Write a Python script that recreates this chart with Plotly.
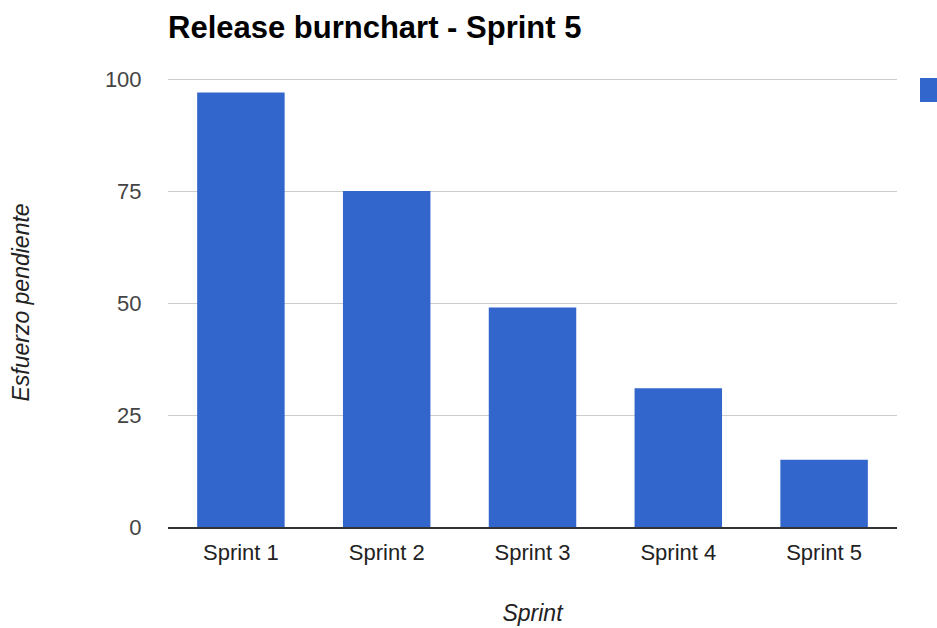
import plotly.graph_objects as go

# Remaining effort per sprint
sprints = ["Sprint 1", "Sprint 2", "Sprint 3", "Sprint 4", "Sprint 5"]
effort = [97, 75, 49, 31, 15]
y_ticks = [0, 25, 50, 75, 100]

BLUE = "#3366cc"
FONT = "Liberation Sans, Arial, sans-serif"

fig = go.Figure(
    go.Bar(
        x=sprints,
        y=effort,
        marker=dict(color=BLUE, line=dict(width=0)),
        width=0.6,
        showlegend=False,
    )
)

fig.update_layout(
    width=937,
    height=628,
    margin=dict(l=168, r=40, t=78, b=101),
    plot_bgcolor="white",
    paper_bgcolor="white",
    font=dict(family=FONT, color="#222222"),
    title=dict(
        text="<b>Release burnchart - Sprint 5</b>",
        x=168 / 937,
        xanchor="left",
        y=1 - 27 / 628,
        yanchor="middle",
        font=dict(size=31, color="#000000", family=FONT),
    ),
    bargap=0.4,
)

fig.update_xaxes(
    automargin=False,
    title=dict(text="<i>Sprint</i>", font=dict(size=23, color="#222222"), standoff=40),
    tickfont=dict(size=22, color="#222222"),
    ticks="outside",
    ticklen=5,
    tickcolor="rgba(0,0,0,0)",
    showline=True,
    linecolor="#333333",
    linewidth=2,
    showgrid=False,
)

fig.update_yaxes(
    automargin=False,
    title=dict(text="<i>Esfuerzo pendiente</i>", font=dict(size=23, color="#222222"), standoff=68),
    range=[0, 100.25],
    tickvals=y_ticks,
    tickfont=dict(size=22, color="#444444"),
    ticks="outside",
    ticklen=21,
    tickcolor="rgba(0,0,0,0)",
    showgrid=True,
    gridcolor="#cccccc",
    gridwidth=1,
    zeroline=False,
    showline=False,
)

# Legend swatch on the right edge
fig.add_shape(
    type="rect",
    xref="paper",
    yref="paper",
    x0=(920 - 168) / 729,
    x1=(945 - 168) / 729,
    y0=(527 - 102) / 449,
    y1=(527 - 78) / 449,
    fillcolor=BLUE,
    line=dict(width=0),
)

fig.write_html("out.html")
